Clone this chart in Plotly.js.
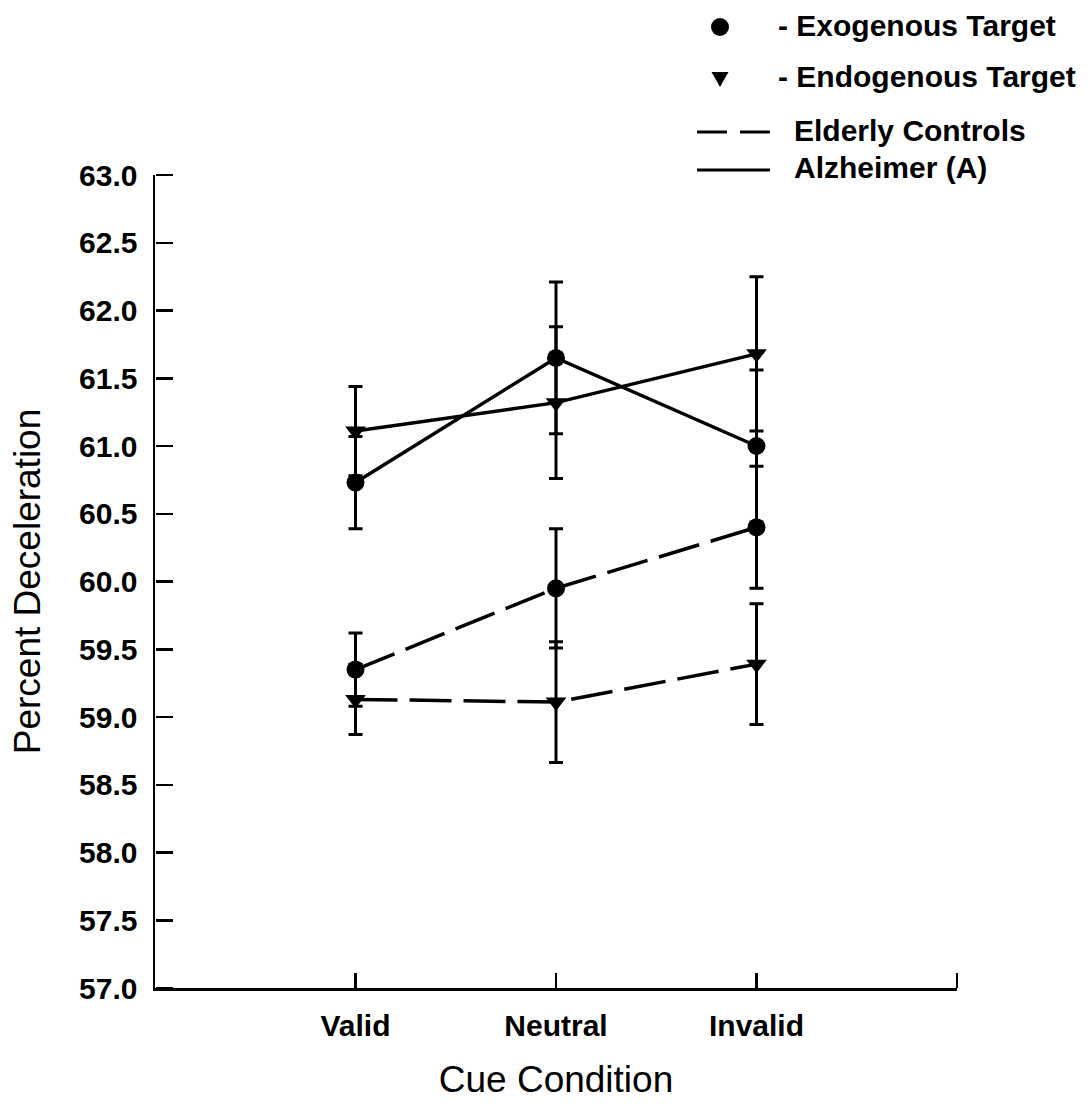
<!DOCTYPE html>
<html>
<head>
<meta charset="utf-8">
<script src="https://cdn.plot.ly/plotly-3.0.1.min.js"></script>
<style>
  html, body { margin: 0; padding: 0; background: #ffffff; }
  #chart { width: 1092px; height: 1106px; }
</style>
</head>
<body>
<div id="chart"></div>
<script>
// ---- Data ----
const cues = ['Valid', 'Neutral', 'Invalid'];

const alzExo     = [60.73, 61.65, 61.00];
const alzExoErr  = [0.34, 0.56, 0.56];
const alzEndo    = [61.11, 61.32, 61.68];
const alzEndoErr = [0.33, 0.56, 0.57];

const eldExo     = [59.35, 59.95, 60.40];
const eldExoErr  = [0.27, 0.44, 0.45];
const eldEndo    = [59.13, 59.11, 59.39];
const eldEndoErr = [0.26, 0.445, 0.445];

const yTickVals = [57.0, 57.5, 58.0, 58.5, 59.0, 59.5, 60.0, 60.5, 61.0, 61.5, 62.0, 62.5, 63.0];

const legendLabels = ['- Exogenous Target', '- Endogenous Target', 'Elderly Controls', 'Alzheimer (A)'];
const xTitle = 'Cue Condition';
const yTitle = 'Percent Deceleration';

// ---- Styling ----
const FONT = "'Liberation Sans', Arial, Helvetica, sans-serif";
const xPos = cues.map((c, i) => i + 1);
const X_RANGE = [0, 4];
const Y_RANGE = [57, 63];

function series(y, err, symbol, dash, name, xa, ya) {
  return {
    type: 'scatter',
    mode: 'lines+markers',
    name: name,
    x: xPos,
    y: y,
    xaxis: xa || 'x',
    yaxis: ya || 'y',
    line: { color: '#000', width: 3.5, dash: dash },
    marker: { color: '#000', size: 18, symbol: symbol },
    error_y: { type: 'data', array: err, visible: true, color: '#000', thickness: 3, width: 7 },
    showlegend: false,
    cliponaxis: false
  };
}

const DASH = '42px,12px';
const traces = [
  series(eldExo, eldExoErr, 'circle', DASH, 'Elderly – Exogenous'),
  series(eldEndo, eldEndoErr, 'triangle-down', DASH, 'Elderly – Endogenous'),
  series(alzExo, alzExoErr, 'circle', 'solid', 'Alzheimer – Exogenous'),
  // drawn on the overlay axes (identical ranges) so the tick-only overlay axes are rendered
  series(alzEndo, alzEndoErr, 'triangle-down', 'solid', 'Alzheimer – Endogenous', 'x2', 'y2')
];

// Legend key, drawn in paper coordinates (plot area: x 155..957, y 175..988 px)
const L = 155, W = 802, B = 988, H = 813;
const px = X => (X - L) / W;
const py = Y => (B - Y) / H;

const shapes = [
  { type: 'circle', xref: 'paper', yref: 'paper', xsizemode: 'pixel', ysizemode: 'pixel',
    xanchor: px(720), yanchor: py(27), x0: -9, x1: 9, y0: -9, y1: 9,
    fillcolor: '#000', line: { width: 0 } },
  { type: 'path', xref: 'paper', yref: 'paper', xsizemode: 'pixel', ysizemode: 'pixel',
    xanchor: px(720), yanchor: py(79), path: 'M-8.5,7 L8.5,7 L0,-8 Z',
    fillcolor: '#000', line: { width: 0 } },
  { type: 'line', xref: 'paper', yref: 'paper', x0: px(697), x1: px(770), y0: py(132), y1: py(132),
    line: { color: '#000', width: 3, dash: '30px,13px' } },
  { type: 'line', xref: 'paper', yref: 'paper', x0: px(697), x1: px(770), y0: py(170), y1: py(170),
    line: { color: '#000', width: 3 } }
];

const legendFont = { family: FONT, size: 30, color: '#000', weight: 'bold' };
const annotations = [
  { text: legendLabels[0], x: px(776), y: py(25) },
  { text: legendLabels[1], x: px(776), y: py(76) },
  { text: legendLabels[2], x: px(792), y: py(130) },
  { text: legendLabels[3], x: px(792), y: py(168) }
].map(a => Object.assign(a, {
  xref: 'paper', yref: 'paper', xanchor: 'left', yanchor: 'middle',
  showarrow: false, font: legendFont
}));

const tickOnly = {
  showticklabels: false,
  showline: false,
  showgrid: false,
  zeroline: false,
  ticks: 'outside',
  tickwidth: 2.5,
  tickcolor: '#000'
};

const layout = {
  width: 1092,
  height: 1106,
  paper_bgcolor: '#fff',
  plot_bgcolor: '#fff',
  margin: { l: 155, r: 135, t: 175, b: 118 },
  showlegend: false,
  font: { family: FONT, color: '#000' },
  xaxis: {
    range: X_RANGE,
    tickvals: xPos,
    ticktext: cues,
    ticks: 'inside',
    ticklen: 15,
    tickwidth: 2.5,
    tickcolor: '#000',
    showline: true,
    linewidth: 2.5,
    linecolor: '#000',
    showgrid: false,
    zeroline: false,
    ticklabelstandoff: 9,
    tickfont: { family: FONT, size: 30, color: '#000', weight: 'bold' },
    title: { text: xTitle, font: { family: FONT, size: 37, color: '#000' }, standoff: 26 },
    automargin: false
  },
  yaxis: {
    range: Y_RANGE,
    tickvals: yTickVals,
    tickformat: '.1f',
    ticks: '',
    showline: true,
    linewidth: 2.5,
    linecolor: '#000',
    showgrid: false,
    zeroline: false,
    ticklabelstandoff: 9,
    tickfont: { family: FONT, size: 30, color: '#000', weight: 'bold' },
    title: { text: yTitle, font: { family: FONT, size: 37, color: '#000' }, standoff: 27 },
    automargin: false
  },
  // tick-only overlay axes: y ticks pointing into the plot, and the end tick on the x axis
  xaxis2: Object.assign({}, tickOnly, {
    range: X_RANGE, overlaying: 'x', anchor: 'free', position: 0, side: 'top',
    tickvals: [X_RANGE[1]], ticklen: 15
  }),
  yaxis2: Object.assign({}, tickOnly, {
    range: Y_RANGE, overlaying: 'y', anchor: 'free', position: 0, side: 'right',
    tickvals: yTickVals, ticklen: 17
  }),
  shapes: shapes,
  annotations: annotations
};

Plotly.newPlot('chart', traces, layout, { displayModeBar: false, staticPlot: true });
</script>
</body>
</html>
